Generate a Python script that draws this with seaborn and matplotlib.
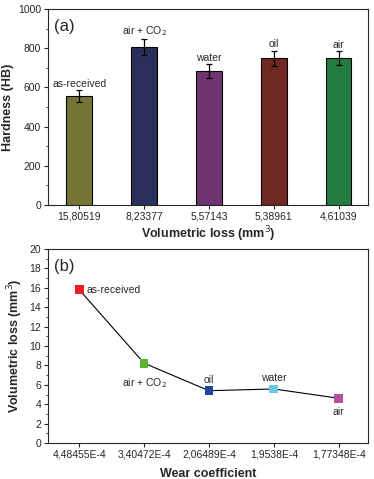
import matplotlib
matplotlib.use("Agg")
import matplotlib.pyplot as plt
from matplotlib.ticker import MultipleLocator
import pandas as pd
import seaborn as sns

# panel (a): hardness per treatment
vol_loss_labels = ["15,80519", "8,23377", "5,57143", "5,38961", "4,61039"]
treatments_a = ["as-received", "air + CO$_2$", "water", "oil", "air"]
hardness = [555, 805, 682, 748, 748]
hardness_err = [30, 40, 36, 38, 36]
bar_colors = ["#7f7f2b", "#232a62", "#7b2a7c", "#7c1d19", "#178a3b"]

# panel (b): volumetric loss vs wear coefficient
wear_labels = ["4,48455E-4", "3,40472E-4", "2,06489E-4", "1,9538E-4", "1,77348E-4"]
treatments_b = ["as-received", "air + CO$_2$", "oil", "water", "air"]
vol_loss = [15.81, 8.23, 5.39, 5.57, 4.61]
point_colors = ["#e8201f", "#5cb531", "#24479a", "#6cc8de", "#b5509e"]

sns.set_style("ticks")
plt.rcParams["font.family"] = ["Liberation Sans", "DejaVu Sans"]
plt.rcParams["xtick.direction"] = "out"
plt.rcParams["ytick.direction"] = "out"

fig = plt.figure(figsize=(3.74, 4.79), dpi=100)
ax1 = fig.add_axes([48 / 374, 1 - 205 / 479, 320 / 374, 196 / 479])
ax2 = fig.add_axes([48 / 374, 1 - 443 / 479, 320 / 374, 194 / 479])

# ---- (a)
df_a = pd.DataFrame({"vol": vol_loss_labels, "hb": hardness})
sns.barplot(data=df_a, x="vol", y="hb", hue="vol", palette=bar_colors, legend=False,
            width=0.39, edgecolor="black", linewidth=0.8, ax=ax1)
ax1.errorbar(range(5), hardness, yerr=hardness_err, fmt="none", ecolor="black",
             elinewidth=0.9, capsize=2.5, capthick=0.9)
for i, (lab, h, e) in enumerate(zip(treatments_a, hardness, hardness_err)):
    ax1.text(i, h + e + 8, lab, ha="center", va="bottom", fontsize=7.5)
ax1.set_xlim(-0.48, 4.45)
ax1.set_ylim(0, 1000)
ax1.yaxis.set_major_locator(MultipleLocator(200))
ax1.yaxis.set_minor_locator(MultipleLocator(100))
ax1.set_xlabel("Volumetric loss (mm$^3$)", fontsize=9, fontweight="bold", labelpad=2)
ax1.set_ylabel("Hardness (HB)", fontsize=9, fontweight="bold", labelpad=3)
ax1.text(0.02, 0.95, "(a)", transform=ax1.transAxes, fontsize=12, va="top")

# ---- (b)
df_b = pd.DataFrame({"wear": wear_labels, "vol": vol_loss, "t": treatments_b})
sns.lineplot(data=df_b, x="wear", y="vol", color="black", linewidth=0.8, sort=False, ax=ax2)
sns.scatterplot(data=df_b, x="wear", y="vol", hue="wear", palette=point_colors, marker="s",
                s=40, edgecolor="none", legend=False, zorder=3, ax=ax2)
offsets = [(0.12, 0.0, "left", "center"), (0.0, -1.3, "center", "top"),
           (0.0, 0.6, "center", "bottom"), (0.0, 0.6, "center", "bottom"),
           (0.0, -0.9, "center", "top")]
for i, (lab, v) in enumerate(zip(treatments_b, vol_loss)):
    dx, dy, ha, va = offsets[i]
    ax2.text(i + dx, v + dy, lab, ha=ha, va=va, fontsize=7.5)
ax2.set_xlim(-0.48, 4.45)
ax2.set_ylim(0, 20)
ax2.yaxis.set_major_locator(MultipleLocator(2))
ax2.yaxis.set_minor_locator(MultipleLocator(1))
ax2.set_xlabel("Wear coefficient", fontsize=9, fontweight="bold", labelpad=6)
ax2.set_ylabel("Volumetric loss (mm$^3$)", fontsize=9, fontweight="bold", labelpad=3)
ax2.text(0.02, 0.95, "(b)", transform=ax2.transAxes, fontsize=12, va="top")

for ax in (ax1, ax2):
    for sp in ax.spines.values():
        sp.set_visible(True)
        sp.set_linewidth(0.8)
    ax.tick_params(axis="both", which="major", labelsize=7.5, length=3, width=0.8, pad=2)
    ax.tick_params(axis="y", which="minor", length=1.8, width=0.6)

fig.savefig("out.png", dpi=100)
